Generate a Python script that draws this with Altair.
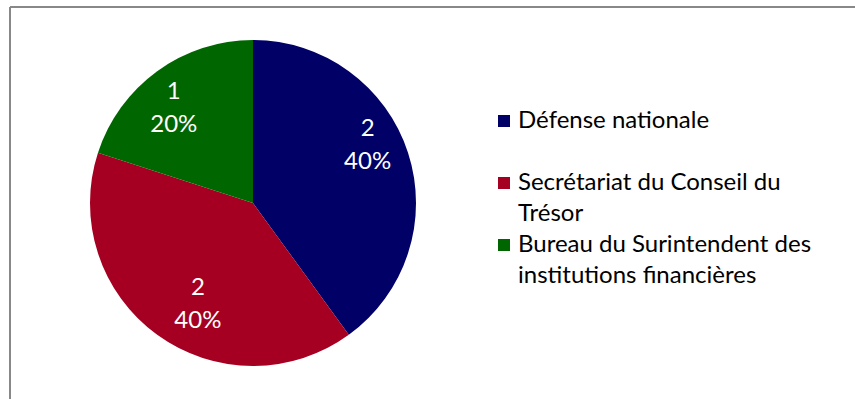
import altair as alt
import pandas as pd

# Pie data
categories = ["Défense nationale", "Secrétariat du Conseil du Trésor",
              "Bureau du Surintendent des institutions financières"]
counts = [2, 2, 1]
percents = ["40%", "40%", "20%"]
colors = ["#000066", "#A50021", "#006600"]

# Legend text lines (category index, line row, text)
legend_cat = [0, 1, 1, 2, 2]
legend_row = [0, 2, 3, 4, 5]
legend_text = ["Défense nationale", "Secrétariat du Conseil du", "Trésor",
               "Bureau du Surintendent des", "institutions financières"]
symbol_row = [0, 2, 4]

FONT = "Lato"
FS = 24

pie_df = pd.DataFrame({
    "cat": categories,
    "n": counts,
    "idx": list(range(len(categories))),
    "label": [f"{c}\n{p}" for c, p in zip(counts, percents)],
})

leg_df = pd.DataFrame({
    "cat": [categories[i] for i in legend_cat],
    "row": legend_row,
    "text": legend_text,
})
sym_df = pd.DataFrame({
    "cat": categories,
    "row": symbol_row,
})

color_scale = alt.Scale(domain=categories, range=colors)
cx, cy = 243, 196

base = alt.Chart(pie_df)
arc = base.mark_arc(radius=163).encode(
    theta=alt.Theta("n:Q", stack=True),
    color=alt.Color("cat:N", scale=color_scale, legend=None),
    order=alt.Order("idx:Q"),
    x=alt.value(cx), y=alt.value(cy),
)
labels = base.mark_text(radius=122, thetaOffset=-0.122, dx=4, dy=-22, font=FONT,
                        fontSize=FS, color="white", lineBreak="\n", lineHeight=33,
                        baseline="middle", align="center").encode(
    theta=alt.Theta("n:Q", stack=True),
    order=alt.Order("idx:Q"),
    text="label:N",
    x=alt.value(cx), y=alt.value(cy),
)

yscale = alt.Scale(domain=[0, 1], range=[114, 145])
leg_text = alt.Chart(leg_df).mark_text(font=FONT, fontSize=FS, color="#000000",
                                       align="left", baseline="middle").encode(
    x=alt.value(508),
    y=alt.Y("row:Q", scale=yscale, axis=None),
    text="text:N",
)
leg_sym = alt.Chart(sym_df).mark_square(size=144, opacity=1).encode(
    x=alt.value(494),
    y=alt.Y("row:Q", scale=yscale, axis=None),
    color=alt.Color("cat:N", scale=color_scale, legend=None),
)

# Frame (top and left edges of the outer border)
frame_top = alt.Chart(pie_df).mark_rule(color="#888888", strokeWidth=2).encode(
    x=alt.value(0), x2=alt.value(845), y=alt.value(0))
frame_left = alt.Chart(pie_df).mark_rule(color="#888888", strokeWidth=2).encode(
    x=alt.value(0), y=alt.value(0), y2=alt.value(392))

chart = alt.layer(arc, labels, leg_sym, leg_text, frame_top, frame_left).resolve_scale(
    y="shared"
).properties(
    width=845, height=392,
    autosize=alt.AutoSizeParams(type="none"),
    padding={"left": 10, "top": 7, "right": 0, "bottom": 0},
).configure_view(
    stroke=None
)

chart.save("out.html", embed_options={"renderer": "svg", "actions": False})
